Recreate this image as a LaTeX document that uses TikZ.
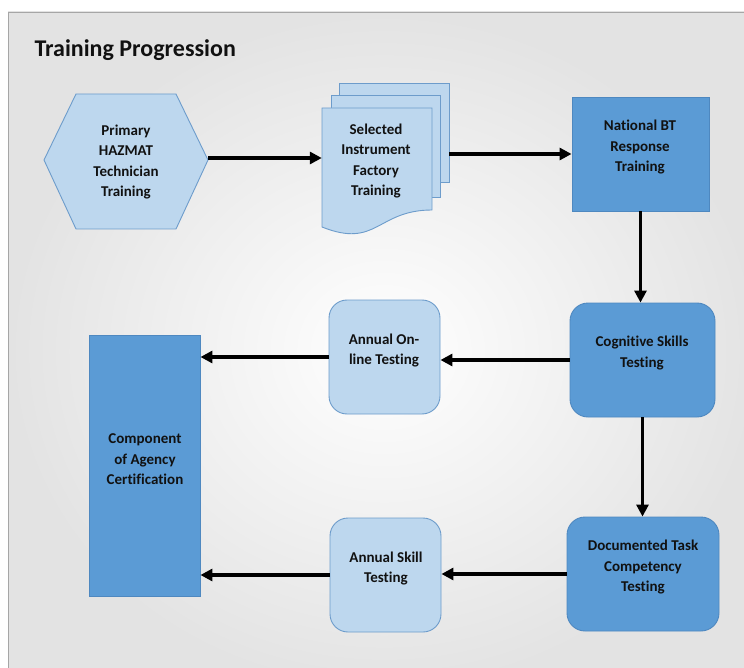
\documentclass[tikz,border=0pt]{standalone}
\usepackage{fontspec}
\setmainfont[Ligatures={NoCommon}]{Carlito}
\usetikzlibrary{arrows.meta}
\definecolor{lightfill}{HTML}{BDD7EE}
\definecolor{lightedge}{HTML}{6D9CCB}
\definecolor{darkfill}{HTML}{5B9BD5}
\definecolor{darkedge}{HTML}{4E88C0}
\definecolor{framegray}{HTML}{A6A6A6}
\definecolor{inktext}{HTML}{111111}

\begin{document}
\begin{tikzpicture}[x=1pt,y=-1pt,
  boxtext/.style={font=\bfseries\fontsize{15}{20.5}\selectfont, align=center, text=inktext},
  darkbox/.style={draw=darkedge, fill=darkfill, line width=0.9pt, inner sep=0pt},
  lightbox/.style={draw=lightedge, fill=lightfill, line width=0.9pt, inner sep=0pt},
  roundbox/.style={rounded corners=18pt},
  anchorbox/.style={inner sep=0pt},
  flow/.style={line width=3.6pt, -{Triangle[length=12pt,width=12pt]}},
]
\useasboundingbox (0,0) rectangle (744,668);

% panel background and frame
\shade[inner color=white, outer color=black!11] (8,12) rectangle (760,690);
\draw[framegray, line width=0.9pt] (8,690) -- (8,12) -- (760,12);

% title
\node[anchor=west, font=\bfseries\fontsize{24}{28}\selectfont, text=inktext] (title) at (31,50) {Training Progression};

% hexagon: primary training
\draw[draw=lightedge, fill=lightfill, line width=0.9pt]
  (44,160) -- (76,94) -- (176,94) -- (208,160) -- (176,229) -- (76,229) -- cycle;
\node[anchorbox, minimum width=164pt, minimum height=135pt] (hex) at (126,161.5) {};
\node[boxtext] (hexT) at (126,162) {Primary\\HAZMAT\\Technician\\Training};

% stacked documents: factory training
\draw[draw=lightedge, fill=lightfill, line width=0.9pt] (339,83) rectangle (449,182);
\draw[draw=lightedge, fill=lightfill, line width=0.9pt] (331,95) rectangle (440,197);
\draw[draw=lightedge, fill=lightfill, line width=0.9pt]
  (322,108) -- (432,108) -- (432,210)
  .. controls (377,210) and (377,249) .. (322,227) -- cycle;
\node[anchorbox, minimum width=127pt, minimum height=152pt] (doc) at (385.5,158) {};
\node[boxtext] (docT) at (376,161) {Selected\\Instrument\\Factory\\Training};

% process boxes
\node[darkbox, minimum width=137pt, minimum height=114pt] (nat) at (640.5,154) {};
\node[boxtext] (natT) at (640,147.5) {National BT\\Response\\Training};

\node[darkbox, roundbox, minimum width=145pt, minimum height=114pt] (cog) at (642.5,360) {};
\node[boxtext] (cogT) at (642,353) {Cognitive Skills\\Testing};

\node[lightbox, roundbox, minimum width=111pt, minimum height=114pt] (online) at (384.5,357) {};
\node[boxtext] (onlineT) at (384,350.5) {Annual On-\\line Testing};

\node[darkbox, minimum width=111pt, minimum height=261pt] (comp) at (144.5,465.5) {};
\node[boxtext] (compT) at (145,459.5) {Component\\of Agency\\Certification};

\node[darkbox, roundbox, minimum width=152pt, minimum height=114pt] (task) at (643,574) {};
\node[boxtext] (taskT) at (643,567.5) {Documented Task\\Competency\\Testing};

\node[lightbox, roundbox, minimum width=111pt, minimum height=114pt] (skill) at (385.5,575) {};
\node[boxtext] (skillT) at (386,568.5) {Annual Skill\\Testing};

% connectors
\draw[flow] (hex.east |- doc.west) -- (doc.west);
\draw[flow] (doc.east |- nat.west) -- (nat.west);
\draw[flow] (nat.south) -- (nat.south |- cog.north);
\draw[flow] (cog.west) -- (cog.west -| online.east);
\draw[flow] (online.west) -- (online.west -| comp.east);
\draw[flow] (cog.south) -- (cog.south |- task.north);
\draw[flow] (task.west) -- (task.west -| skill.east);
\draw[flow] (skill.west) -- (skill.west -| comp.east);
\end{tikzpicture}
\end{document}
